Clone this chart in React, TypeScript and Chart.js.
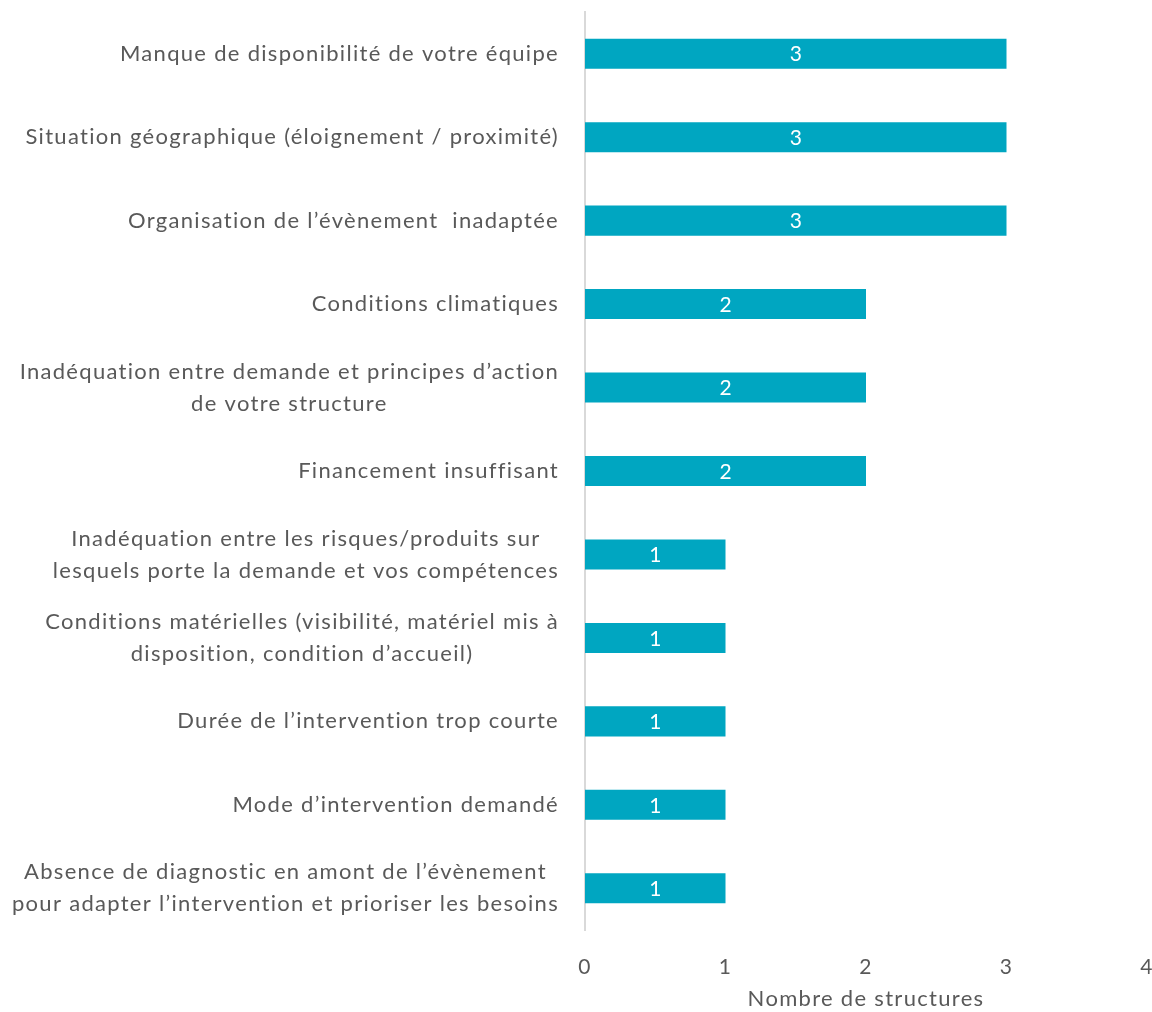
import React, { useEffect, useRef } from "react";
import { Chart, registerables } from "chart.js";

Chart.register(...registerables);

const categories: string[][] = [
  ["Manque de disponibilité de votre équipe"],
  ["Situation géographique (éloignement / proximité)"],
  ["Organisation de l’évènement  inadaptée"],
  ["Conditions climatiques"],
  ["Inadéquation entre demande et principes d’action", "de votre structure"],
  ["Financement insuffisant"],
  ["Inadéquation entre les risques/produits sur", "lesquels porte la demande et vos compétences"],
  ["Conditions matérielles (visibilité, matériel mis à", "disposition, condition d’accueil)"],
  ["Durée de l’intervention trop courte"],
  ["Mode d’intervention demandé"],
  ["Absence de diagnostic en amont de l’évènement", "pour adapter l’intervention et prioriser les besoins"],
];
const values: number[] = [3, 3, 3, 2, 2, 2, 1, 1, 1, 1, 1];
const xTicks: number[] = [0, 1, 2, 3, 4];
const axisTitle = "Nombre de structures";

const FONT = "Lato, 'Open Sans', sans-serif";
const TEXT = "#595959";
const BAR = "#00A6C1";
const SPACING = "1.3px";

const labelPlugin = {
  id: "customLabels",
  beforeDraw(chart: any) {
    (chart.ctx as any).letterSpacing = SPACING;
  },
  afterDraw(chart: any) {
    const ctx = chart.ctx;
    const yScale = chart.scales.y;
    ctx.save();
    (ctx as any).letterSpacing = SPACING;
    ctx.font = `22px ${FONT}`;
    ctx.fillStyle = TEXT;
    ctx.textAlign = "center";
    ctx.textBaseline = "middle";
    const right = yScale.right - 26;
    categories.forEach((lines, i) => {
      const y = yScale.getPixelForTick(i);
      const w = Math.max(...lines.map((l) => ctx.measureText(l).width));
      const cx = right - w / 2;
      lines.forEach((l, j) => {
        ctx.fillText(l, cx, y + (j - (lines.length - 1) / 2) * 32);
      });
    });
    // data labels
    const meta = chart.getDatasetMeta(0);
    ctx.fillStyle = "#ffffff";
    ctx.font = `21px ${FONT}`;
    (ctx as any).letterSpacing = "0px";
    meta.data.forEach((bar: any, i: number) => {
      const x = (bar.x + bar.base) / 2;
      ctx.fillText(String(values[i]), x, bar.y + 1);
    });
    ctx.restore();
  },
};

export default function App() {
  const ref = useRef<HTMLCanvasElement>(null);
  useEffect(() => {
    if (!ref.current) return;
    const chart = new Chart(ref.current, {
      type: "bar",
      data: {
        labels: categories.map((c) => c.join(" ")),
        datasets: [
          {
            data: values,
            backgroundColor: BAR,
            borderWidth: 0,
            barPercentage: 0.36,
            categoryPercentage: 1,
          },
        ],
      },
      options: {
        indexAxis: "y",
        animation: false,
        responsive: false,
        maintainAspectRatio: false,
        layout: { padding: { top: 12, right: 5, bottom: 0, left: 0 } },
        plugins: { legend: { display: false }, tooltip: { enabled: false } },
        scales: {
          x: {
            min: 0,
            max: 4,
            grid: { display: false, drawTicks: false },
            border: { display: false },
            afterBuildTicks: (scale: any) => {
              scale.ticks = xTicks.map((v) => ({ value: v }));
            },
            afterFit: (scale: any) => {
              scale.height = 82;
              scale.paddingLeft = 0;
              scale.paddingRight = 0;
            },
            ticks: {
              padding: 25,
              color: TEXT,
              maxRotation: 0,
              font: { family: FONT, size: 21 },
            },
            title: {
              display: true,
              text: axisTitle,
              color: TEXT,
              font: { family: FONT, size: 22 },
              padding: { top: 10, bottom: 0 },
            },
          },
          y: {
            grid: { display: false, drawTicks: false },
            border: { display: true, color: "#D9D9D9", width: 2 },
            ticks: { display: false },
            afterFit: (scale: any) => {
              scale.width = 585;
            },
          },
        },
      },
      plugins: [labelPlugin],
    });
    return () => chart.destroy();
  }, []);
  return (
    <div style={{ position: "fixed", left: 0, top: 0, width: 1152, height: 1012, background: "#fff" }}>
      <canvas ref={ref} width={1152} height={1012} style={{ display: "block" }} />
    </div>
  );
}
